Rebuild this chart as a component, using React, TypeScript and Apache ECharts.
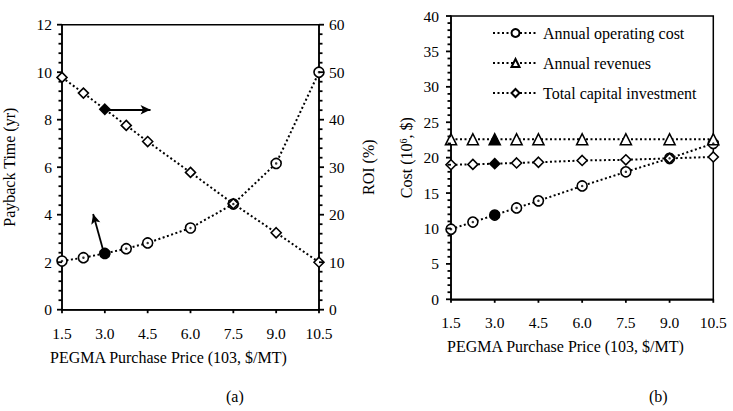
import React, { useEffect, useRef } from "react";
import * as echarts from "echarts";

const priceX = [1.5, 2.25, 3.0, 3.75, 4.5, 6.0, 7.5, 9.0, 10.5];
const paybackYears = [2.05, 2.19, 2.37, 2.57, 2.81, 3.44, 4.45, 6.16, 10.0];
const roiPercent = [48.9, 45.6, 42.2, 38.8, 35.4, 28.9, 22.3, 16.2, 10.0];
const operatingCost = [9.9, 10.9, 11.9, 12.9, 13.9, 16.0, 18.0, 19.9, 22.0];
const annualRevenues = [22.6, 22.6, 22.6, 22.6, 22.6, 22.6, 22.6, 22.6, 22.6];
const capitalInvestment = [19.0, 19.05, 19.15, 19.25, 19.35, 19.6, 19.7, 19.9, 20.1];
const highlightIndex = 2;
const arrowToROI = [[3.02, 8.42], [4.6, 8.42]];
const arrowToPayback = [[2.93, 2.56], [2.59, 4.03]];
const legendNames = ["Annual operating cost", "Annual revenues", "Total capital investment"];
const xTickLabels = [1.5, 3.0, 4.5, 6.0, 7.5, 9.0, 10.5];

const FONT = "'Liberation Serif', 'DejaVu Serif', serif";
const FS = 15.5;
const FN = 16;
const BLACK = "#000";

const pts = (ys: number[]) =>
  priceX.map((x, i) =>
    i === highlightIndex
      ? { value: [x, ys[i]], itemStyle: { color: BLACK } }
      : { value: [x, ys[i]] }
  );
const dots = (ys: number[]) => priceX.map((x, i) => [x, ys[i]]);

// tick positions along an axis from 0..max: [value, isMajor]
const tickSteps = (max: number, minor: number, major: number) => {
  const out: number[][] = [];
  const n = Math.round(max / minor);
  for (let i = 0; i <= n; i++) {
    const v = +(i * minor).toFixed(4);
    const r = v / major;
    out.push([v, Math.abs(r - Math.round(r)) < 1e-6 ? 1 : 0]);
  }
  return out;
};

const xAxisBase = (gridIndex: number, margin: number) => ({
  type: "value",
  gridIndex,
  min: 1.5,
  max: 10.5,
  interval: 1.5,
  axisLine: { lineStyle: { color: BLACK, width: 1.5 } },
  axisTick: { show: false },
  axisLabel: {
    color: BLACK,
    fontFamily: FONT,
    fontSize: FS,
    margin,
    formatter: (v: number) => v.toFixed(1),
  },
  splitLine: { show: false },
});

const yAxisBase = (gridIndex: number, position: string, max: number, interval: number, margin: number) => ({
  type: "value",
  gridIndex,
  position,
  min: 0,
  max,
  interval,
  axisLine: { show: true, lineStyle: { color: BLACK, width: 1.5 } },
  axisTick: { show: false },
  axisLabel: { color: BLACK, fontFamily: FONT, fontSize: FS, margin },
  splitLine: { show: false },
  nameLocation: "middle",
  nameRotate: 90,
  nameTextStyle: { color: BLACK, fontFamily: FONT, fontSize: FN },
});

// tick marks drawn through the axes' own scales
const tickSeries = (
  xAxisIndex: number,
  yAxisIndex: number,
  items: number[][],
  dir: "left" | "right" | "down"
) => ({
  type: "custom",
  xAxisIndex,
  yAxisIndex,
  silent: true,
  clip: false,
  z: 10,
  data: items,
  renderItem: (_p: any, api: any) => {
    const a = api.value(0);
    const b = api.value(1);
    const major = api.value(2) === 1;
    const len = major ? 5 : 3.5;
    const p = api.coord([a, b]);
    let x2 = p[0];
    let y2 = p[1];
    if (dir === "left") x2 -= len;
    else if (dir === "right") x2 += len;
    else y2 += len;
    return {
      type: "line",
      shape: { x1: p[0], y1: p[1], x2, y2 },
      style: { stroke: BLACK, lineWidth: 1.8 },
    };
  },
});

const lineSeries = (
  name: string,
  xAxisIndex: number,
  yAxisIndex: number,
  ys: number[],
  symbol: string,
  symbolSize: number
) => ({
  name,
  type: "line",
  xAxisIndex,
  yAxisIndex,
  data: pts(ys),
  symbol,
  symbolSize,
  showAllSymbol: true,
  clip: false,
  lineStyle: { color: BLACK, width: 2, type: [2, 2.5] },
  itemStyle: { color: "#fff", borderColor: BLACK, borderWidth: 1.6 },
  z: 3,
});

const dotSeries = (name: string, xAxisIndex: number, yAxisIndex: number, ys: number[]) => ({
  name,
  type: "scatter",
  xAxisIndex,
  yAxisIndex,
  data: dots(ys),
  symbol: "circle",
  symbolSize: 2.5,
  clip: false,
  itemStyle: { color: BLACK },
  z: 5,
  silent: true,
});

export default function App() {
  const ref = useRef<HTMLDivElement>(null);
  useEffect(() => {
    if (!ref.current) return;
    const chart = echarts.init(ref.current, undefined, { renderer: "svg" });
    const payback = lineSeries("Payback time", 0, 0, paybackYears, "circle", 10) as any;
    payback.markLine = {
      silent: true,
      symbol: ["none", "arrow"],
      symbolSize: [7, 10],
      label: { show: false },
      lineStyle: { color: BLACK, width: 1.8, type: "solid" },
      data: [
        [{ coord: arrowToROI[0] }, { coord: arrowToROI[1] }],
        [{ coord: arrowToPayback[0] }, { coord: arrowToPayback[1] }],
      ],
    };
    const textStyle = (text: string) => ({ text, fill: BLACK, fontFamily: FONT, fontSize: FN });
    const xMin = xTickLabels[0];
    const xMax = xTickLabels[xTickLabels.length - 1];
    chart.setOption({
      animation: false,
      backgroundColor: "#fff",
      textStyle: { fontFamily: FONT },
      grid: [
        { left: 57.7, right: 414, top: 24.7, bottom: 101.3, show: true, borderColor: BLACK, borderWidth: 1.5, backgroundColor: "transparent" },
        { left: 451, right: 19.7, top: 16, bottom: 111.7, show: true, borderColor: BLACK, borderWidth: 1.5, backgroundColor: "transparent" },
      ],
      xAxis: [xAxisBase(0, 16), xAxisBase(1, 15)],
      yAxis: [
        { ...yAxisBase(0, "left", 12, 2, 10), name: "Payback Time (yr)", nameGap: 45 },
        { ...yAxisBase(0, "right", 60, 10, 10), name: "ROI (%)", nameGap: 41 },
        {
          ...yAxisBase(1, "left", 40, 5, 12),
          name: "{a|Cost (10}{s|6}{a|, $)}",
          nameGap: 37,
          nameTextStyle: {
            color: BLACK,
            fontFamily: FONT,
            fontSize: FN,
            rich: {
              a: { color: BLACK, fontFamily: FONT, fontSize: FN },
              s: { color: BLACK, fontFamily: FONT, fontSize: 10, verticalAlign: "top", padding: [0, 0, 6, 0] },
            },
          },
        },
      ],
      legend: {
        data: legendNames,
        orient: "vertical",
        left: 487,
        top: 20,
        itemWidth: 45,
        itemHeight: 10,
        itemGap: 14,
        textStyle: { color: BLACK, fontFamily: FONT, fontSize: FN },
      },
      graphic: [
        { type: "text", left: 50, top: 349, style: textStyle("PEGMA Purchase Price (103, $/MT)") },
        { type: "text", left: 447, top: 338, style: textStyle("PEGMA Purchase Price (103, $/MT)") },
        { type: "text", left: 226, top: 388, style: textStyle("(a)") },
        { type: "text", left: 649, top: 388, style: textStyle("(b)") },
      ],
      series: [
        payback,
        dotSeries("payback-dot", 0, 0, paybackYears),
        lineSeries("ROI", 0, 1, roiPercent, "diamond", 10),
        lineSeries(legendNames[0], 1, 2, operatingCost, "circle", 10),
        dotSeries("opcost-dot", 1, 2, operatingCost),
        lineSeries(legendNames[1], 1, 2, annualRevenues, "triangle", 11),
        lineSeries(legendNames[2], 1, 2, capitalInvestment, "diamond", 10),
        tickSeries(0, 0, tickSteps(12, 0.4, 2).map(([v, m]) => [xMin, v, m]), "left"),
        tickSeries(0, 1, tickSteps(60, 2, 10).map(([v, m]) => [xMax, v, m]), "right"),
        tickSeries(1, 2, tickSteps(40, 1, 5).map(([v, m]) => [xMin, v, m]), "left"),
        tickSeries(0, 0, xTickLabels.map((v) => [v, 0, 0]), "down"),
        tickSeries(1, 2, xTickLabels.map((v) => [v, 0, 0]), "down"),
      ],
    });
    return () => chart.dispose();
  }, []);
  return (
    <div
      ref={ref}
      style={{ position: "fixed", left: 0, top: 0, width: 733, height: 411, background: "#fff" }}
    />
  );
}
